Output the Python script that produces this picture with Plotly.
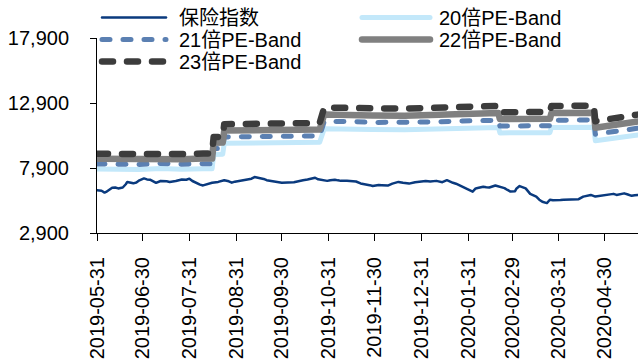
import plotly.graph_objects as go

# 保险指数 daily closes (sampled)
index_dates = [
    "2019-05-31", "2019-06-03", "2019-06-05", "2019-06-06", "2019-06-10", "2019-06-12",
    "2019-06-14", "2019-06-17", "2019-06-19", "2019-06-20", "2019-06-24", "2019-06-26",
    "2019-06-28", "2019-07-01", "2019-07-03", "2019-07-05", "2019-07-09", "2019-07-11",
    "2019-07-12", "2019-07-16", "2019-07-18", "2019-07-22", "2019-07-24", "2019-07-26",
    "2019-07-29", "2019-07-31", "2019-08-02", "2019-08-05", "2019-08-07", "2019-08-09",
    "2019-08-13", "2019-08-15", "2019-08-19", "2019-08-21", "2019-08-23", "2019-08-26",
    "2019-08-28", "2019-08-30", "2019-09-03", "2019-09-05", "2019-09-10", "2019-09-12",
    "2019-09-16", "2019-09-18", "2019-09-20", "2019-09-24", "2019-09-26", "2019-09-30",
    "2019-10-08", "2019-10-10", "2019-10-14", "2019-10-17", "2019-10-22", "2019-10-24",
    "2019-10-28", "2019-10-30", "2019-11-01", "2019-11-04", "2019-11-06", "2019-11-08",
    "2019-11-12", "2019-11-15", "2019-11-18", "2019-11-21", "2019-11-25", "2019-11-27",
    "2019-11-29", "2019-12-03", "2019-12-05", "2019-12-09", "2019-12-12", "2019-12-16",
    "2019-12-19", "2019-12-23", "2019-12-27", "2019-12-31", "2020-01-03", "2020-01-06",
    "2020-01-10", "2020-01-14", "2020-01-17", "2020-01-21", "2020-01-23", "2020-02-03",
    "2020-02-05", "2020-02-07", "2020-02-10", "2020-02-12", "2020-02-14", "2020-02-18",
    "2020-02-21", "2020-02-24", "2020-02-26", "2020-02-28", "2020-03-02", "2020-03-03",
    "2020-03-05", "2020-03-09", "2020-03-12", "2020-03-16", "2020-03-18", "2020-03-20",
    "2020-03-23", "2020-03-25", "2020-03-27", "2020-03-30", "2020-04-01", "2020-04-03",
    "2020-04-08", "2020-04-10", "2020-04-13", "2020-04-16", "2020-04-21", "2020-04-24",
    "2020-04-28", "2020-04-30", "2020-05-06", "2020-05-08", "2020-05-13", "2020-05-15",
    "2020-05-18", "2020-05-20", "2020-05-22",
]
index_values = [
    6190, 6150, 6010, 6060, 6380, 6400,
    6330, 6400, 6650, 6830, 6720, 6780,
    6950, 7100, 7020, 7000, 6760, 6850,
    6900, 6880, 6830, 6900, 6960, 7010,
    7000, 7080, 6900, 6700, 6620, 6560,
    6700, 6760, 6830, 6900, 6960, 6880,
    6770, 6850, 6930, 7010, 7080, 7200,
    7120, 7060, 6960, 6900, 6850, 6760,
    6810, 6870, 6960, 7010, 7150, 7030,
    6960, 6910, 6960, 7000, 6950, 6910,
    6910, 6880, 6860, 6710, 6660, 6580,
    6510, 6600, 6580, 6550, 6700, 6830,
    6760, 6700, 6810, 6880, 6900, 6860,
    6910, 6810, 6960, 6760, 6690, 6080,
    6330, 6380, 6460, 6420, 6400, 6550,
    6460, 6350, 6210, 6090, 6120, 6330,
    6510, 6330, 5910, 5700, 5460, 5300,
    5200, 5460, 5420, 5400, 5430, 5460,
    5460, 5480, 5500, 5700, 5830, 5700,
    5760, 5830, 5910, 5830, 5950, 5880,
    5760, 5800, 5830,
]

# Index-level EPS used to build the PE bands
band_dates = [
    "2019-05-31", "2019-06-14", "2019-06-28", "2019-07-12", "2019-07-26", "2019-08-09",
    "2019-08-15", "2019-08-16", "2019-08-22", "2019-08-23", "2019-09-06", "2019-09-20",
    "2019-10-11", "2019-10-25", "2019-10-28", "2019-11-15", "2019-11-29", "2019-12-20",
    "2020-01-10", "2020-01-23", "2020-02-10", "2020-02-20", "2020-02-21", "2020-03-10",
    "2020-03-25", "2020-03-26", "2020-04-10", "2020-04-23", "2020-04-24", "2020-04-30",
    "2020-05-08", "2020-05-13", "2020-05-18", "2020-05-22",
]
eps_values = [
    391, 390, 389, 393, 390, 392,
    392, 447, 448, 490, 490, 492,
    493, 494, 546, 547, 543, 542,
    545, 548, 550, 551, 530, 530,
    531, 551, 552, 552, 500, 505,
    511, 515, 519, 522,
]

pe_multiples = [20, 21, 22, 23]
series_names = ["保险指数", "20倍PE-Band", "21倍PE-Band", "22倍PE-Band", "23倍PE-Band"]

tick_dates = [
    "2019-05-31", "2019-06-30", "2019-07-31", "2019-08-31", "2019-09-30", "2019-10-31",
    "2019-11-30", "2019-12-31", "2020-01-31", "2020-02-29", "2020-03-31", "2020-04-30",
]
y_ticks = [2900, 7900, 12900, 17900]

# dash lengths are set shorter than they appear because the caps are rounded
styles = [
    dict(color="#0a3a7e", width=2.5, dash="solid"),
    dict(color="#c3e8fa", width=5, dash="solid"),
    dict(color="#5b80b2", width=5, dash="8px,13px"),
    dict(color="#808080", width=6.5, dash="solid"),
    dict(color="#3c3c3c", width=6.5, dash="11px,14px"),
]

FONT = "Liberation Sans, Arial, Noto Sans CJK SC, sans-serif"
W, H = 638, 359
ML, MR, MT, MB = 97, 0, 38, 121

fig = go.Figure()
fig.add_trace(go.Scatter(x=index_dates, y=index_values, mode="lines",
                         name=series_names[0], line=styles[0]))
for k, m in enumerate(pe_multiples):
    fig.add_trace(go.Scatter(x=band_dates, y=[e * m for e in eps_values], mode="lines",
                             name=series_names[k + 1], line=styles[k + 1]))


def px_x(p):
    return (p - ML) / (W - ML - MR)


def px_y(p):
    return (H - MB - p) / (H - MT - MB)


# two-column legend drawn above the plot
legend_slots = [(102, 166, 177, 17), (362, 430, 437, 17),
                (102, 166, 177, 39.5), (362, 430, 437, 39.5),
                (102, 166, 177, 62)]
shapes, annotations = [], []
for name, st, (x0, x1, tx, yy) in zip(series_names, styles, legend_slots):
    shapes.append(dict(type="line", xref="paper", yref="paper",
                       x0=px_x(x0), x1=px_x(x1), y0=px_y(yy), y1=px_y(yy),
                       line=dict(color=st["color"], width=st["width"], dash=st["dash"])))
    annotations.append(dict(text=name, xref="paper", yref="paper", x=px_x(tx), y=px_y(yy + 1),
                            xanchor="left", yanchor="middle", showarrow=False,
                            font=dict(size=20, color="#000000", family=FONT)))

fig.update_layout(
    width=W, height=H,
    margin=dict(l=ML, r=MR, t=MT, b=MB, pad=0),
    paper_bgcolor="white", plot_bgcolor="white",
    showlegend=False,
    font=dict(family=FONT, size=20, color="#000000"),
    shapes=shapes, annotations=annotations,
)
fig.update_xaxes(
    type="date", range=["2019-05-31", "2020-05-22 04:00"],
    tickvals=tick_dates, ticktext=tick_dates, tickangle=-90,
    ticks="outside", ticklen=7, tickcolor="#000000", tickwidth=1,
    showline=True, linecolor="#000000", linewidth=1,
    showgrid=False, zeroline=False, ticklabelstandoff=8,
    tickfont=dict(size=20, family=FONT),
)
fig.update_yaxes(
    range=[2900, 17900], tickvals=y_ticks, tickformat=",d",
    ticks="outside", ticklen=6, tickcolor="#000000", tickwidth=1,
    showline=True, linecolor="#000000", linewidth=1,
    showgrid=False, zeroline=False, ticklabelstandoff=17,
    tickfont=dict(size=20, family=FONT),
)

# round line caps and joins for the series and the legend swatches
round_caps = (
    "document.body.style.margin='0';"
    "var s=document.createElement('style');"
    "s.textContent='.scatterlayer path.js-line, .shapelayer path'"
    "+'{stroke-linecap:round !important;stroke-linejoin:round !important;}';"
    "document.head.appendChild(s);"
)
fig.write_html("out.html", post_script=round_caps)
